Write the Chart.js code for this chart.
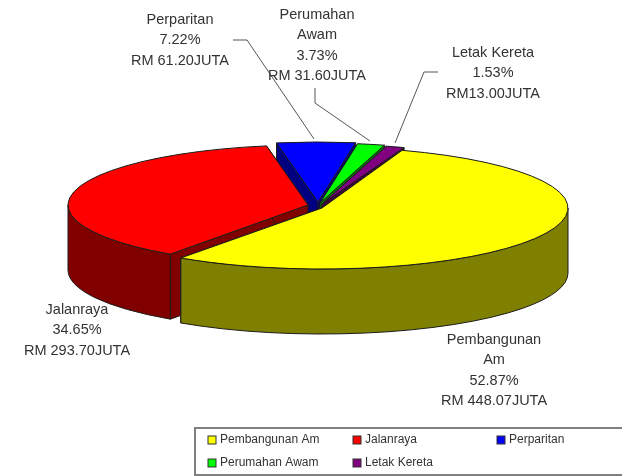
<!DOCTYPE html>
<html>
<head>
<meta charset="utf-8">
<title>Peruntukan</title>
<script src="https://cdn.jsdelivr.net/npm/chart.js@4"></script>
<style>
  html, body { margin: 0; padding: 0; background: #fff; overflow: hidden; }
  canvas { display: block; filter: blur(0.6px); }
</style>
</head>
<body>
<canvas id="myChart" width="622" height="476"></canvas>
<script>
var categories = ['Pembangunan Am', 'Jalanraya', 'Perparitan', 'Perumahan Awam', 'Letak Kereta'];
var amounts = [448.07, 293.70, 61.20, 31.60, 13.00];
var percentText = ['52.87%', '34.65%', '7.22%', '3.73%', '1.53%'];
var amountText = ['RM 448.07JUTA', 'RM 293.70JUTA', 'RM 61.20JUTA', 'RM 31.60JUTA', 'RM13.00JUTA'];
var nameLines = [['Pembangunan', 'Am'], ['Jalanraya'], ['Perparitan'], ['Perumahan', 'Awam'], ['Letak Kereta']];
var topColors = ['#ffff00', '#ff0000', '#0000ff', '#00ff00', '#800080'];
var sideColors = ['#808000', '#800000', '#000080', '#008000', '#400040'];

// where each exploded slice sits on the page
var sliceBox = [
  { x: 322, y: 208, rx: 246, ry: 61 },
  { x: 308, y: 205, rx: 240, ry: 60 },
  { x: 318, y: 202, rx: 240, ry: 60 },
  { x: 320, y: 203, rx: 240, ry: 60 },
  { x: 322, y: 204, rx: 240, ry: 60 }
];
var depth = 65;
var drawOrder = [2, 3, 4, 1, 0];
var labelSpots = [
  { x: 494, y: 340 }, { x: 77, y: 310 }, { x: 180, y: 20 }, { x: 317, y: 15 }, { x: 493, y: 53 }
];
var leaders = [
  [[233, 40], [247, 40], [314, 139]],
  [[315, 88], [315, 103], [370, 141]],
  [[438, 72], [424, 72], [395, 143]]
];
var legendSpots = [[208, 440], [353, 440], [497, 440], [208, 463], [353, 463]];

// the old 3D pie squeezes the far slices, so shown angles are not quite the true ones
// pairs of [true degrees from north, shown degrees from north]
var angleKnots = [[19, 19], [209.3, 215], [334, 350], [360, 369], [373.4, 375.5], [379, 380]];

function shownAngle(a) {
  var deg = a * 180 / Math.PI + 90;
  while (deg < 18.9) deg += 360;
  for (var i = 1; i < angleKnots.length; i++) {
    if (deg <= angleKnots[i][0] + 0.001) {
      var p = angleKnots[i - 1], q = angleKnots[i];
      deg = p[1] + (deg - p[0]) * (q[1] - p[1]) / (q[0] - p[0]);
      break;
    }
  }
  return (deg - 90) * Math.PI / 180;
}

function edgePoint(b, a, dy) {
  return [b.x + b.rx * Math.cos(a), b.y + dy + b.ry * Math.sin(a)];
}

function quad(ctx, p1, p2, p3, p4) {
  ctx.beginPath();
  ctx.moveTo(p1[0], p1[1]);
  ctx.lineTo(p2[0], p2[1]);
  ctx.lineTo(p3[0], p3[1]);
  ctx.lineTo(p4[0], p4[1]);
  ctx.closePath();
  ctx.fill();
  ctx.stroke();
}

function drawSides(ctx, b, a0, a1, color) {
  ctx.fillStyle = color;
  ctx.strokeStyle = '#1a1a1a';
  ctx.lineWidth = 1;
  var c = [b.x, b.y], cLow = [b.x, b.y + depth];
  [a0, a1].forEach(function (a) {
    quad(ctx, c, edgePoint(b, a, 0), edgePoint(b, a, depth), cLow);
  });
  // only the front half of the rim can be seen
  var from = Math.max(a0, 0), to = Math.min(a1, Math.PI);
  if (to <= from) return;
  ctx.beginPath();
  ctx.ellipse(b.x, b.y, b.rx, b.ry, 0, from, to);
  ctx.ellipse(b.x, b.y + depth, b.rx, b.ry, 0, to, from, true);
  ctx.closePath();
  ctx.fill();
  ctx.stroke();
}

function drawTop(ctx, el, b, a0, a1) {
  var saved = [el.startAngle, el.endAngle, el.circumference];
  el.startAngle = a0;
  el.endAngle = a1;
  el.circumference = a1 - a0;
  ctx.save();
  ctx.translate(b.x, b.y);
  ctx.scale(b.rx / el.outerRadius, b.ry / el.outerRadius);
  ctx.translate(-el.x, -el.y);
  el.draw(ctx);
  ctx.restore();
  el.startAngle = saved[0];
  el.endAngle = saved[1];
  el.circumference = saved[2];

  ctx.strokeStyle = '#1a1a1a';
  ctx.lineWidth = 1;
  ctx.beginPath();
  ctx.moveTo(b.x, b.y);
  ctx.ellipse(b.x, b.y, b.rx, b.ry, 0, a0, a1);
  ctx.closePath();
  ctx.stroke();
}

var pie3d = {
  id: 'pie3d',
  beforeDatasetsDraw: function (chart) {
    var ctx = chart.ctx;
    var arcs = chart.getDatasetMeta(0).data;
    drawOrder.forEach(function (i) {
      var a0 = shownAngle(arcs[i].startAngle);
      var a1 = shownAngle(arcs[i].endAngle);
      drawSides(ctx, sliceBox[i], a0, a1, sideColors[i]);
      drawTop(ctx, arcs[i], sliceBox[i], a0, a1);
    });
    return false;
  },
  afterDraw: function (chart) {
    var ctx = chart.ctx;
    ctx.save();

    // leader lines
    ctx.strokeStyle = '#555';
    ctx.lineWidth = 1;
    leaders.forEach(function (pts) {
      ctx.beginPath();
      pts.forEach(function (p, n) {
        if (n === 0) ctx.moveTo(p[0], p[1]); else ctx.lineTo(p[0], p[1]);
      });
      ctx.stroke();
    });

    // slice labels
    ctx.fillStyle = '#333';
    ctx.font = '14.5px "Liberation Sans"';
    ctx.textAlign = 'center';
    ctx.textBaseline = 'middle';
    categories.forEach(function (name, i) {
      var lines = nameLines[i].concat([percentText[i], amountText[i]]);
      lines.forEach(function (line, n) {
        ctx.fillText(line, labelSpots[i].x, labelSpots[i].y + n * 20.4);
      });
    });

    // legend, its box runs off the right and bottom of the picture
    ctx.fillStyle = '#fff';
    ctx.strokeStyle = '#808080';
    ctx.lineWidth = 2;
    ctx.fillRect(195, 428, 440, 47);
    ctx.strokeRect(195, 428, 440, 47);
    ctx.font = '12px "Liberation Sans"';
    ctx.textAlign = 'left';
    ctx.lineWidth = 1;
    categories.forEach(function (name, i) {
      var s = legendSpots[i];
      ctx.fillStyle = topColors[i];
      ctx.strokeStyle = '#333';
      ctx.fillRect(s[0], s[1] - 4, 8, 8);
      ctx.strokeRect(s[0], s[1] - 4, 8, 8);
      ctx.fillStyle = '#333';
      ctx.fillText(name, s[0] + 12, s[1]);
    });
    ctx.restore();
  }
};

var myChart = new Chart(document.getElementById('myChart'), {
  type: 'pie',
  data: {
    labels: categories,
    datasets: [{
      data: amounts,
      backgroundColor: topColors,
      borderWidth: 0
    }]
  },
  options: {
    responsive: false,
    animation: false,
    rotation: 19,
    plugins: {
      legend: { display: false },
      tooltip: { enabled: false }
    }
  },
  plugins: [pie3d]
});
</script>
</body>
</html>
